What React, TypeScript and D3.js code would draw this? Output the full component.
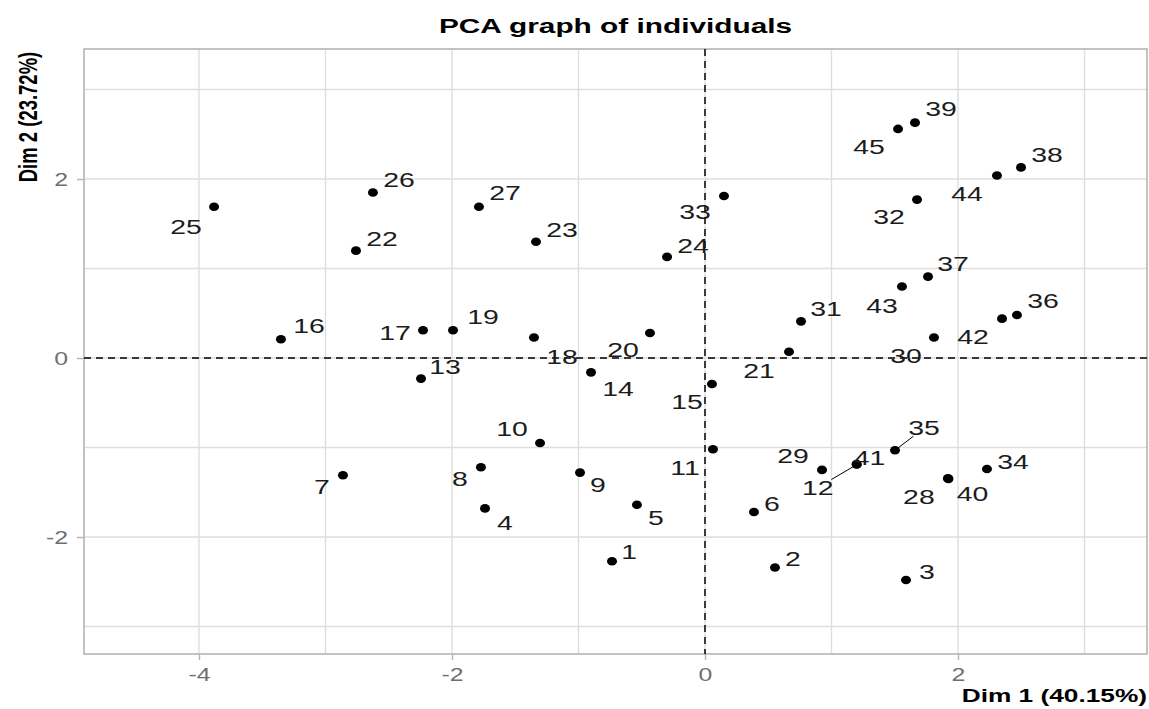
import React, { useEffect, useRef } from 'react'
import * as d3 from 'd3'

// individuals, coordinates
const ids = ['1','2','3','4','5','6','7','8','9','10','11','12','13','14','15','16','17','18','19','20','21','22','23','24','25','26','27','28','29','30','31','32','33','34','35','36','37','38','39','40','41','42','43','44','45']
const dim1 = [-0.735, 0.553, 1.589, -1.739, -0.538, 0.387, -2.862, -1.771, -0.988, -1.304, 0.063, 1.2, -2.245, -0.901, 0.055, -3.352, -2.229, -1.352, -1.992, -0.435, 0.664, -2.759, -1.336, -0.3, -3.881, -2.625, -1.787, 1.92, 0.925, 1.81, 0.759, 1.676, 0.15, 2.229, 1.502, 2.466, 1.763, 2.498, 1.66, 1.925, 1.198, 2.348, 1.557, 2.308, 1.526]
const dim2 = [-2.27, -2.34, -2.48, -1.68, -1.64, -1.72, -1.31, -1.22, -1.28, -0.95, -1.02, -1.19, -0.23, -0.16, -0.29, 0.21, 0.31, 0.23, 0.31, 0.28, 0.07, 1.2, 1.3, 1.13, 1.69, 1.85, 1.69, -1.345, -1.25, 0.23, 0.41, 1.77, 1.81, -1.24, -1.03, 0.48, 0.91, 2.13, 2.63, -1.35, -1.185, 0.44, 0.8, 2.04, 2.56]

const xTicks = [-4, -2, 0, 2]
const yTicks = [-2, 0, 2]
const xMinor = [-3, -1, 1, 3]
const yMinor = [-3, -1, 1, 3]

const title = 'PCA graph of individuals'
const xTitle = 'Dim 1 (40.15%)'
const yTitle = 'Dim 2 (23.72%)'

// where the repel put each label, px from its point
const labelDx = [17, 18, 21, 20, 19, 18, -21, -21, 18, -28, -28, -39, 24, 27, -25, 28, -28, 28, 30, -27, -30, 26, 26, 26, -28, 26, 26, -29, -29, -28, 25, -28, -29, 26, 29, 26, 25, 26, 26, 24, 13, -29, -20, -30, -29]
const labelDy = [-9, -9, -8, 14, 13, -8, 12, 12, 12, -14, 18, 23, -12, 16, 18, -13, 3, 19, -13, 17, 19, -12, -12, -11, 20, -13, -14, 18, -14, 18, -13, 17, 16, -7, -22, -14, -13, -13, -14, 15, -6, 18, 19, 18, 18]
const withSegment = ['12', '35']

const W = 1149
const H = 709
const SX = 1.42
const FONT = "'Liberation Sans', Arial, sans-serif"

function App() {
  const ref = useRef(null)

  useEffect(() => {
    const left = 84, right = 1147, top = 49, bottom = 654
    const x = d3.scaleLinear().domain([-4.909, 3.494]).range([left, right])
    const y = d3.scaleLinear().domain([-3.307, 3.453]).range([bottom, top])

    const svg = d3.select(ref.current)
    svg.selectAll('*').remove()
    svg.append('rect').attr('width', W).attr('height', H).attr('fill', '#fff')

    const grid = svg.append('g').attr('stroke', '#dedede').attr('stroke-width', 1.4)
    grid.selectAll('.vx').data(xMinor.concat(xTicks)).enter().append('line')
      .attr('x1', d => x(d)).attr('x2', d => x(d)).attr('y1', top).attr('y2', bottom)
    grid.selectAll('.hy').data(yMinor.concat(yTicks)).enter().append('line')
      .attr('y1', d => y(d)).attr('y2', d => y(d)).attr('x1', left).attr('x2', right)

    svg.append('rect')
      .attr('x', left).attr('y', top).attr('width', right - left).attr('height', bottom - top)
      .attr('fill', 'none').attr('stroke', '#b4b4b4').attr('stroke-width', 1.6)

    // axes
    const xAxis = svg.append('g').attr('transform', `translate(0,${bottom})`)
      .call(d3.axisBottom(x).tickValues(xTicks).tickSize(6).tickFormat(d => String(d)))
    const yAxis = svg.append('g').attr('transform', `translate(${left},0)`)
      .call(d3.axisLeft(y).tickValues(yTicks).tickSize(7).tickFormat(d => String(d)))
    for (const ax of [xAxis, yAxis]) {
      ax.select('.domain').remove()
      ax.selectAll('line').attr('stroke', '#b4b4b4').attr('stroke-width', 1.4)
      ax.selectAll('text')
        .attr('font-family', FONT).attr('font-size', 17.5).attr('fill', '#6e6e6e')
        .attr('dy', 0)
    }
    xAxis.selectAll('text').attr('y', 27).attr('transform', `scale(${SX},1)`)
    yAxis.selectAll('text').attr('x', -16 / SX).attr('y', 6.5).attr('transform', `scale(${SX},1)`)

    // reference lines
    svg.append('line')
      .attr('x1', x(0)).attr('x2', x(0)).attr('y1', top).attr('y2', bottom)
      .attr('stroke', '#000').attr('stroke-width', 1.5).attr('stroke-dasharray', '7,5')
    svg.append('line')
      .attr('y1', y(0)).attr('y2', y(0)).attr('x1', left).attr('x2', right)
      .attr('stroke', '#000').attr('stroke-width', 1.5).attr('stroke-dasharray', '7,5')

    const pts = ids.map((id, i) => ({
      id, px: x(dim1[i]), py: y(dim2[i]), dx: labelDx[i], dy: labelDy[i]
    }))

    // segments from label to point
    const edge = p => 1 - Math.min(16 / Math.abs(p.dx), 8 / Math.abs(p.dy))
    svg.selectAll('.seg').data(pts.filter(p => withSegment.includes(p.id))).enter().append('line')
      .attr('x1', p => p.px).attr('y1', p => p.py)
      .attr('x2', p => p.px + p.dx * edge(p))
      .attr('y2', p => p.py + p.dy * edge(p))
      .attr('stroke', '#000').attr('stroke-width', 1)

    svg.selectAll('.pt').data(pts).enter().append('ellipse')
      .attr('cx', p => p.px).attr('cy', p => p.py)
      .attr('rx', 5).attr('ry', 4.3).attr('fill', '#000')

    svg.selectAll('.lab').data(pts).enter().append('text')
      .attr('transform', p => `translate(${p.px + p.dx},${p.py + p.dy + 7.2}) scale(${SX},1)`)
      .attr('text-anchor', 'middle')
      .attr('font-family', FONT).attr('font-size', 20).attr('fill', '#1c1c1c')
      .text(p => p.id)

    // titles
    svg.append('text')
      .attr('transform', `translate(${(left + right) / 2},33) scale(${SX},1)`)
      .attr('text-anchor', 'middle').attr('font-family', FONT)
      .attr('font-size', 21).attr('font-weight', 'bold').attr('fill', '#000')
      .text(title)
    svg.append('text')
      .attr('transform', `translate(${right},702) scale(${SX},1)`)
      .attr('text-anchor', 'end').attr('font-family', FONT)
      .attr('font-size', 18.5).attr('font-weight', 'bold').attr('fill', '#000')
      .text(xTitle)
    svg.append('text')
      .attr('transform', `translate(37,117) scale(${SX},1) rotate(-90)`)
      .attr('text-anchor', 'middle').attr('font-family', FONT)
      .attr('font-size', 18.5).attr('font-weight', 'bold').attr('fill', '#000')
      .text(yTitle)
  }, [])

  return (
    <svg ref={ref} width={W} height={H}
      style={{ position: 'absolute', left: 0, top: 0, display: 'block' }} />
  )
}

export default App
